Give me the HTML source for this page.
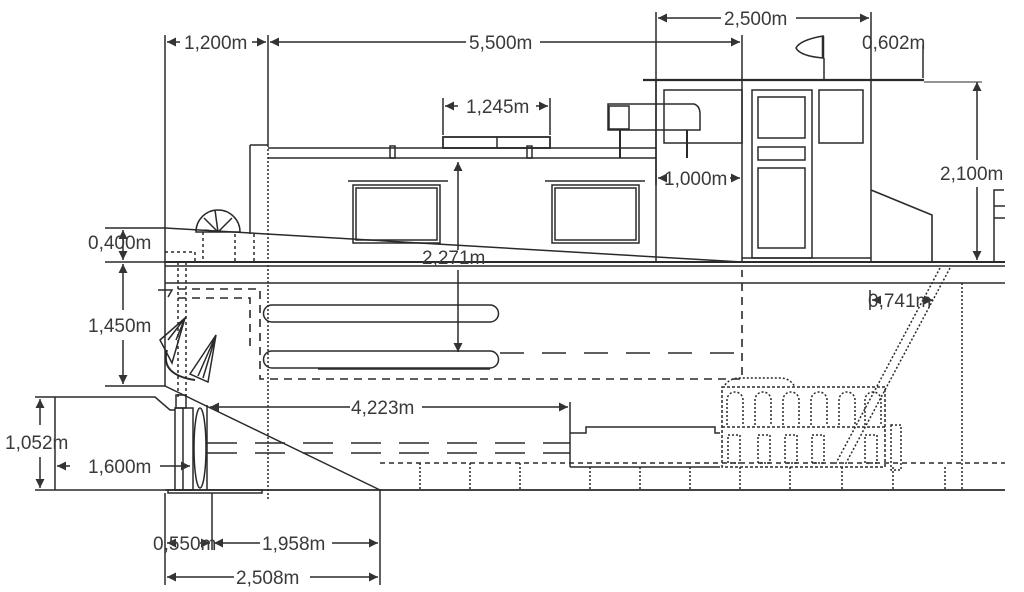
<!DOCTYPE html>
<html><head><meta charset="utf-8"><style>
html,body{margin:0;padding:0;background:#fff;}
svg{display:block;}
text{font-family:"Liberation Sans",sans-serif;font-size:19px;fill:#3a3a3a;}
</style></head><body>
<svg width="1024" height="592" viewBox="0 0 1024 592" xmlns="http://www.w3.org/2000/svg">
<defs>
<marker id="a" viewBox="0 0 10 10" refX="10" refY="5" markerWidth="11" markerHeight="9" orient="auto-start-reverse" markerUnits="userSpaceOnUse"><path d="M0,0 L10,5 L0,10 z" fill="#333"/></marker>
</defs>
<g stroke="#2a2a2a" fill="none" stroke-width="1.5">
<line x1="165" y1="35" x2="165" y2="228"/>
<line x1="268" y1="35" x2="268" y2="145"/>
<line x1="268" y1="145" x2="268" y2="500" stroke-dasharray="2 2"/>
<line x1="742" y1="35" x2="742" y2="262"/>
<line x1="656" y1="12" x2="656" y2="185"/>
<line x1="871" y1="12" x2="871" y2="80"/>
<line x1="923" y1="45" x2="923" y2="78"/>
<line x1="167" y1="42" x2="180" y2="42" marker-start="url(#a)"/>
<line x1="252" y1="42" x2="266" y2="42" marker-end="url(#a)"/>
<line x1="270" y1="42" x2="466" y2="42" marker-start="url(#a)"/>
<line x1="540" y1="42" x2="740" y2="42" marker-end="url(#a)"/>
<line x1="658" y1="18" x2="721" y2="18" marker-start="url(#a)"/>
<line x1="796" y1="18" x2="869" y2="18" marker-end="url(#a)"/>
<line x1="643" y1="80" x2="924" y2="80" stroke-width="2.2"/>
<line x1="924" y1="82" x2="982" y2="82" stroke-width="1"/>
<line x1="656" y1="80" x2="656" y2="262"/>
<line x1="871" y1="80" x2="871" y2="262"/>
<rect x="664" y="90" width="78" height="53"/>
<rect x="752" y="90" width="60" height="168"/>
<rect x="758" y="97" width="47" height="41"/>
<rect x="758" y="147" width="47" height="13"/>
<rect x="758" y="168" width="47" height="80"/>
<rect x="819" y="90" width="44" height="53"/>
<line x1="742" y1="258" x2="871" y2="258"/>
<path d="M871,190 L932,215 L932,262" stroke-width="1.6"/>
<path d="M1004,190 L994,190 L994,262 M994,206 L1005,206 M994,218 L1005,218"/>
<path d="M823,36 Q800,40 796,48 Q800,56 823,58 Z"/>
<line x1="823" y1="36" x2="823" y2="58" stroke-width="2.5"/>
<line x1="824" y1="58" x2="824" y2="80"/>
<line x1="977" y1="82" x2="977" y2="160" marker-start="url(#a)"/>
<line x1="977" y1="187" x2="977" y2="260" marker-end="url(#a)"/>
<path d="M608,104 L694,104 Q700,106 700,114 L700,130 L608,130 Z"/>
<rect x="609" y="106" width="20" height="23"/>
<line x1="620" y1="130" x2="620" y2="158" stroke-width="2"/>
<line x1="687" y1="130" x2="687" y2="158" stroke-width="2"/>
<line x1="250" y1="145" x2="250" y2="234"/>
<line x1="250" y1="145" x2="268" y2="145"/>
<line x1="268" y1="148" x2="656" y2="148"/>
<line x1="268" y1="158" x2="656" y2="158"/>
<rect x="390" y="146" width="5" height="12"/>
<rect x="527" y="146" width="5" height="12"/>
<rect x="443" y="137" width="107" height="11" stroke-width="1.8"/>
<line x1="497" y1="137" x2="497" y2="148"/>
<line x1="443" y1="98" x2="443" y2="135"/>
<line x1="550" y1="98" x2="550" y2="135"/>
<line x1="445" y1="106" x2="458" y2="106" marker-start="url(#a)"/>
<line x1="536" y1="106" x2="548" y2="106" marker-end="url(#a)"/>
<line x1="348" y1="181" x2="448" y2="181"/>
<line x1="545" y1="181" x2="645" y2="181"/>
<rect x="353" y="185" width="87" height="58"/>
<rect x="356" y="188" width="81" height="52"/>
<rect x="552" y="185" width="87" height="58"/>
<rect x="555" y="188" width="81" height="52"/>
<line x1="165" y1="228" x2="742" y2="262"/>
<line x1="458" y1="250" x2="458" y2="162" marker-end="url(#a)"/>
<line x1="458" y1="270" x2="458" y2="352" marker-end="url(#a)"/>
<line x1="658" y1="178" x2="666" y2="178" marker-start="url(#a)"/>
<line x1="730" y1="178" x2="740" y2="178" marker-end="url(#a)"/>
<path d="M196,232 A22,22 0 0 1 240,232 Z"/>
<path d="M218,232 L204,218 M218,232 L215,210 M218,232 L232,218 M218,232 L205,230"/>
<g stroke-dasharray="3 3">
<line x1="203" y1="232" x2="203" y2="262"/><line x1="235" y1="234" x2="235" y2="262"/>
<line x1="254" y1="234" x2="254" y2="262"/>
<path d="M165,252 L195,252 L195,262"/>
<line x1="178" y1="262" x2="178" y2="400"/><line x1="186" y1="262" x2="186" y2="400"/>
</g>
<line x1="105" y1="228" x2="165" y2="228"/>
<line x1="105" y1="262" x2="165" y2="262"/>
<line x1="105" y1="386" x2="165" y2="386"/>
<line x1="123" y1="230" x2="123" y2="260" marker-start="url(#a)" marker-end="url(#a)"/>
<line x1="123" y1="264" x2="123" y2="310" marker-start="url(#a)"/>
<line x1="123" y1="340" x2="123" y2="384" marker-end="url(#a)"/>
<line x1="165" y1="262" x2="1005" y2="262" stroke-width="2"/>
<line x1="165" y1="266" x2="1005" y2="266"/>
<line x1="165" y1="283" x2="1005" y2="283"/>
<line x1="165" y1="228" x2="165" y2="386"/>
<line x1="165" y1="386" x2="380" y2="490"/>
<line x1="165" y1="490" x2="1005" y2="490" stroke-width="1.8"/>
<rect x="168" y="490" width="94" height="3"/>
<path d="M158,290 L172,290 L168,297"/>
<g stroke-dasharray="8 6" stroke-width="1.6">
<path d="M178,289 L260,289 L260,379 L742,379 L742,270"/>
<path d="M178,298 L250,298 L250,352"/>
<line x1="500" y1="353" x2="742" y2="353" stroke-dasharray="24 18"/>
<line x1="207" y1="443" x2="570" y2="443" stroke-dasharray="30 18"/>
<line x1="207" y1="453" x2="570" y2="453" stroke-dasharray="30 18"/>
<line x1="380" y1="463" x2="1005" y2="463" stroke-dasharray="5 4" stroke-width="1.4"/>
</g>
<path d="M272,305 L490,305 A8,8 0 0 1 490,322 L272,322 A8,8 0 0 1 272,305"/>
<path d="M272,351 L490,351 A8,8 0 0 1 490,368 L272,368 A8,8 0 0 1 272,351"/>
<line x1="318" y1="369" x2="490" y2="369"/>
<path d="M160,340 L185,318 L172,363 Z M168,340 L185,318 M176,340 L185,318"/>
<path d="M190,374 L216,335 L208,382 Z M198,376 L216,335 M203,378 L216,335"/>
<path d="M167,350 Q160,375 195,380" stroke-width="2"/>
<path d="M55,397 L155,397 L170,410 L175,410"/>
<line x1="55" y1="397" x2="55" y2="490"/>
<line x1="35" y1="397" x2="55" y2="397"/><line x1="35" y1="490" x2="165" y2="490"/>
<line x1="40" y1="399" x2="40" y2="425" marker-start="url(#a)"/>
<line x1="40" y1="457" x2="40" y2="488" marker-end="url(#a)"/>
<rect x="175" y="408" width="18" height="82"/>
<line x1="183" y1="408" x2="183" y2="490"/>
<rect x="176" y="395" width="10" height="13"/>
<ellipse cx="200" cy="448" rx="6" ry="40"/>
<line x1="207" y1="405" x2="207" y2="490"/>
<line x1="57" y1="466" x2="70" y2="466" marker-start="url(#a)"/>
<line x1="160" y1="466" x2="190" y2="466" marker-end="url(#a)"/>
<line x1="210" y1="407" x2="350" y2="407" marker-start="url(#a)"/>
<line x1="422" y1="407" x2="568" y2="407" marker-end="url(#a)"/>
<line x1="570" y1="402" x2="570" y2="467"/>
<path d="M570,433 L586,433 L586,427 L715,427 L715,433 L720,433 M570,467 L720,467"/>
<rect x="722" y="387" width="163" height="80" stroke-dasharray="3 2"/>
<line x1="722" y1="427" x2="885" y2="427" stroke-dasharray="3 2"/>
<g stroke-dasharray="2 2">
<path d="M727,425 L727,400 A8,8 0 0 1 743,400 L743,425"/><path d="M755,425 L755,400 A8,8 0 0 1 771,400 L771,425"/>
<path d="M783,425 L783,400 A8,8 0 0 1 799,400 L799,425"/><path d="M811,425 L811,400 A8,8 0 0 1 827,400 L827,425"/>
<path d="M839,425 L839,400 A8,8 0 0 1 855,400 L855,425"/><path d="M865,425 L865,400 A8,8 0 0 1 881,400 L881,425"/>
<rect x="728" y="435" width="12" height="28"/><rect x="758" y="435" width="12" height="28"/><rect x="785" y="435" width="12" height="28"/>
<rect x="812" y="435" width="12" height="28"/><rect x="865" y="435" width="12" height="28"/><rect x="891" y="425" width="10" height="45"/>
<path d="M725,385 Q730,378 740,378 L780,378 Q790,378 795,387"/>
<line x1="940" y1="268" x2="835" y2="465"/><line x1="950" y1="268" x2="845" y2="465"/>
<line x1="962" y1="283" x2="962" y2="490"/>
<line x1="420" y1="463" x2="420" y2="490"/><line x1="470" y1="463" x2="470" y2="490"/><line x1="520" y1="463" x2="520" y2="490"/>
<line x1="590" y1="467" x2="590" y2="490"/><line x1="640" y1="467" x2="640" y2="490"/><line x1="690" y1="467" x2="690" y2="490"/>
<line x1="740" y1="467" x2="740" y2="490"/><line x1="790" y1="467" x2="790" y2="490"/><line x1="842" y1="467" x2="842" y2="490"/>
<line x1="893" y1="467" x2="893" y2="490"/><line x1="945" y1="467" x2="945" y2="490"/>
</g>
<line x1="870" y1="290" x2="870" y2="310"/>
<line x1="872" y1="300" x2="880" y2="300" marker-start="url(#a)"/>
<line x1="925" y1="300" x2="933" y2="300" marker-end="url(#a)"/>
<line x1="165" y1="493" x2="165" y2="585"/>
<line x1="212" y1="493" x2="212" y2="550"/>
<line x1="380" y1="490" x2="380" y2="585"/>
<line x1="167" y1="543" x2="175" y2="543" marker-start="url(#a)"/>
<line x1="200" y1="543" x2="210" y2="543" marker-end="url(#a)"/>
<line x1="214" y1="543" x2="260" y2="543" marker-start="url(#a)"/>
<line x1="332" y1="543" x2="378" y2="543" marker-end="url(#a)"/>
<line x1="167" y1="577" x2="234" y2="577" marker-start="url(#a)"/>
<line x1="310" y1="577" x2="378" y2="577" marker-end="url(#a)"/>
</g>
<g>
<text x="184" y="49">1,200m</text>
<text x="469" y="49">5,500m</text>
<text x="724" y="25">2,500m</text>
<text x="862" y="49">0,602m</text>
<text x="466" y="113">1,245m</text>
<text x="664" y="185">1,000m</text>
<text x="940" y="180">2,100m</text>
<text x="88" y="249">0,400m</text>
<text x="422" y="264">2,271m</text>
<text x="88" y="332">1,450m</text>
<text x="868" y="307">0,741m</text>
<text x="351" y="414">4,223m</text>
<text x="5" y="449">1,052m</text>
<text x="88" y="473">1,600m</text>
<text x="153" y="550">0,550m</text>
<text x="262" y="550">1,958m</text>
<text x="236" y="584">2,508m</text>
</g>
</svg>
</body></html>
